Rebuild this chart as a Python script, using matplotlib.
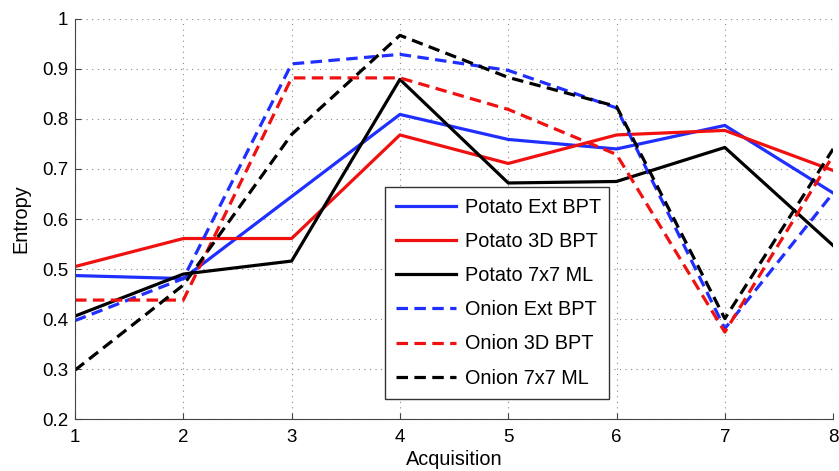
import matplotlib
matplotlib.use("Agg")
from matplotlib import pyplot as plt

acq = [1, 2, 3, 4, 5, 6, 7, 8]

potato_ext_bpt = [0.487, 0.481, 0.645, 0.809, 0.759, 0.740, 0.787, 0.652]
potato_3d_bpt = [0.505, 0.561, 0.561, 0.768, 0.711, 0.768, 0.777, 0.697]
potato_7x7_ml = [0.406, 0.490, 0.516, 0.879, 0.672, 0.675, 0.743, 0.547]
onion_ext_bpt = [0.397, 0.481, 0.910, 0.929, 0.897, 0.822, 0.381, 0.652]
onion_3d_bpt = [0.438, 0.438, 0.882, 0.882, 0.819, 0.729, 0.374, 0.727]
onion_7x7_ml = [0.298, 0.468, 0.769, 0.967, 0.883, 0.825, 0.401, 0.740]

plt.rcParams["font.family"] = ["Liberation Sans", "DejaVu Sans"]

fig = plt.figure(figsize=(8.39, 4.71), dpi=100)
ax = fig.add_axes([0.0894, 0.110, 0.9036, 0.850])

dash = (0, (3.6, 2.0))
lw = 2.3
ax.plot(acq, potato_ext_bpt, color="#1f2fff", lw=lw, label="Potato Ext BPT")
ax.plot(acq, potato_3d_bpt, color="#f01010", lw=lw, label="Potato 3D BPT")
ax.plot(acq, potato_7x7_ml, color="black", lw=lw, label="Potato 7x7 ML")
ax.plot(acq, onion_ext_bpt, color="#1f2fff", lw=lw, ls=dash, label="Onion Ext BPT")
ax.plot(acq, onion_3d_bpt, color="#f01010", lw=lw, ls=dash, label="Onion 3D BPT")
ax.plot(acq, onion_7x7_ml, color="black", lw=lw, ls=dash, label="Onion 7x7 ML")

ax.set_xlim(1, 8)
ax.set_ylim(0.2, 1)
ax.set_xticks(acq)
ax.set_yticks([0.2, 0.3, 0.4, 0.5, 0.6, 0.7, 0.8, 0.9, 1])
ax.set_yticklabels(["0.2", "0.3", "0.4", "0.5", "0.6", "0.7", "0.8", "0.9", "1"])
ax.tick_params(direction="in", labelsize=13.5, length=4, color="#444444")
ax.tick_params(axis="x", pad=7)
ax.tick_params(axis="y", pad=5)
ax.grid(True, ls=(0, (1, 4)), color="#888888", lw=0.8)

for side in ("top", "right"):
    ax.spines[side].set_visible(False)
for side in ("left", "bottom"):
    ax.spines[side].set_color("#444444")

ax.set_xlabel("Acquisition", fontsize=14.3, labelpad=3)
ax.set_ylabel("Entropy", fontsize=14.3, labelpad=8)

leg = ax.legend(loc="upper left", bbox_to_anchor=(0.409, 0.0, 0.296, 0.58),
                mode="expand", fontsize=14.3, fancybox=False, framealpha=1,
                edgecolor="#333333", handlelength=3.0, borderaxespad=0,
                borderpad=0.56, labelspacing=0.76, handletextpad=0.45)
leg.get_frame().set_linewidth(1.0)

fig.savefig("out.png", dpi=100)
